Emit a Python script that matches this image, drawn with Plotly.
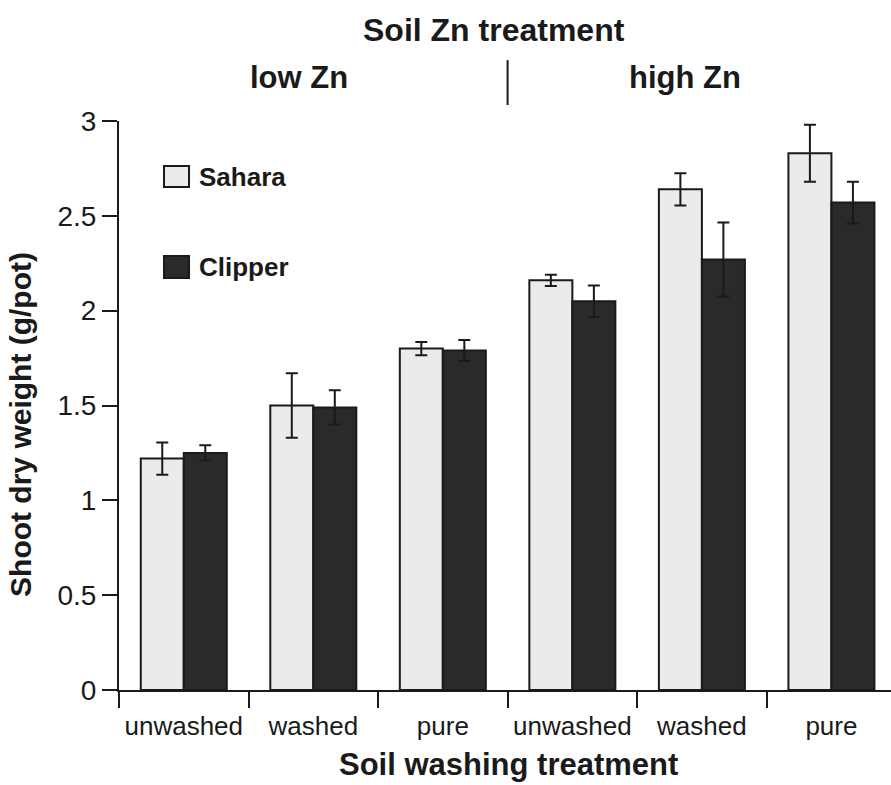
import plotly.graph_objects as go

groups = ["unwashed", "washed", "pure", "unwashed", "washed", "pure"]
sahara = [1.22, 1.50, 1.80, 2.16, 2.64, 2.83]
sahara_err = [0.085, 0.17, 0.035, 0.03, 0.085, 0.15]
clipper = [1.25, 1.49, 1.79, 2.05, 2.27, 2.57]
clipper_err = [0.04, 0.09, 0.055, 0.083, 0.195, 0.11]
y_ticks = [0, 0.5, 1, 1.5, 2, 2.5, 3]
y_tick_text = ["0", "0.5", "1", "1.5", "2", "2.5", "3"]

xpos = list(range(len(groups)))
boundaries = [i - 0.5 for i in xpos]

FONT = "Liberation Sans, Arial, Helvetica, sans-serif"
INK = "#1a1a1a"

fig = go.Figure()
fig.add_trace(go.Bar(
    x=xpos, y=sahara, name="Sahara",
    marker=dict(color="#ebebeb", line=dict(color=INK, width=2)),
    error_y=dict(type="data", array=sahara_err, color=INK, thickness=2, width=6),
))
fig.add_trace(go.Bar(
    x=xpos, y=clipper, name="Clipper",
    marker=dict(color="#2a2a2a", line=dict(color=INK, width=2)),
    error_y=dict(type="data", array=clipper_err, color=INK, thickness=2, width=6),
))

fig.update_layout(
    width=891, height=785,
    margin=dict(l=119, r=0, t=121, b=95),
    plot_bgcolor="white", paper_bgcolor="white",
    barmode="group", bargap=0.336, bargroupgap=0,
    showlegend=False,
    font=dict(family=FONT, color=INK),
    xaxis=dict(
        range=[-0.5, 5.46], tickmode="array", tickvals=xpos, ticktext=groups,
        ticks="outside", ticklen=12, tickcolor="rgba(0,0,0,0)",
        tickfont=dict(size=26, family=FONT, color=INK),
        showline=True, linecolor=INK, linewidth=2,
        showgrid=False, zeroline=False,
    ),
    xaxis2=dict(
        range=[-0.5, 5.46], overlaying="x", anchor="y", side="bottom",
        tickmode="array", tickvals=boundaries, ticks="outside", ticklen=17,
        tickwidth=2, tickcolor=INK, showticklabels=False,
        showline=False, showgrid=False, zeroline=False,
    ),
    yaxis=dict(
        range=[0, 3], tickmode="array", tickvals=y_ticks, ticktext=y_tick_text,
        ticks="outside", ticklen=15, tickwidth=2, tickcolor=INK,
        tickfont=dict(size=28, family=FONT, color=INK),
        showline=True, linecolor=INK, linewidth=2,
        showgrid=False, zeroline=False,
    ),
)

# invisible trace to activate xaxis2 (boundary ticks)
fig.add_trace(go.Scatter(x=[0], y=[0], xaxis="x2", mode="markers",
                         marker=dict(opacity=0), hoverinfo="skip", showlegend=False))

def note(text, x, y, size, **kw):
    d = dict(text=text, xref="paper", yref="paper", x=x, y=y, showarrow=False,
             xanchor="center", yanchor="middle", font=dict(size=size))
    d.update(kw)
    return d

ann = [
    note("<b>Soil Zn treatment</b>", 0.486, 1.16, 32),
    note("<b>low Zn</b>", 0.233, 1.0756, 31),
    note("<b>high Zn</b>", 0.733, 1.0756, 31),
    note("<b>Shoot dry weight (g/pot)</b>", -0.127, 0.4675, 30, textangle=-90),
    note("<b>Soil washing treatment</b>", 0.505, -0.1318, 31),
    note("<b>Sahara</b>", 0.101, 0.9016, 26, xanchor="left"),
    note("<b>Clipper</b>", 0.101, 0.7434, 26, xanchor="left"),
]
fig.update_layout(annotations=ann)

fig.add_shape(type="rect", xref="paper", yref="paper", x0=0.0583, x1=0.0907,
              y0=0.884, y1=0.921, fillcolor="#ebebeb", line=dict(color=INK, width=2))
fig.add_shape(type="rect", xref="paper", yref="paper", x0=0.0583, x1=0.0907,
              y0=0.7241, y1=0.7627, fillcolor="#2a2a2a", line=dict(color=INK, width=2))
fig.add_shape(type="line", xref="x", yref="paper", x0=2.5, x1=2.5,
              y0=1.028, y1=1.107, line=dict(color=INK, width=2))

fig.write_html("out.html")
